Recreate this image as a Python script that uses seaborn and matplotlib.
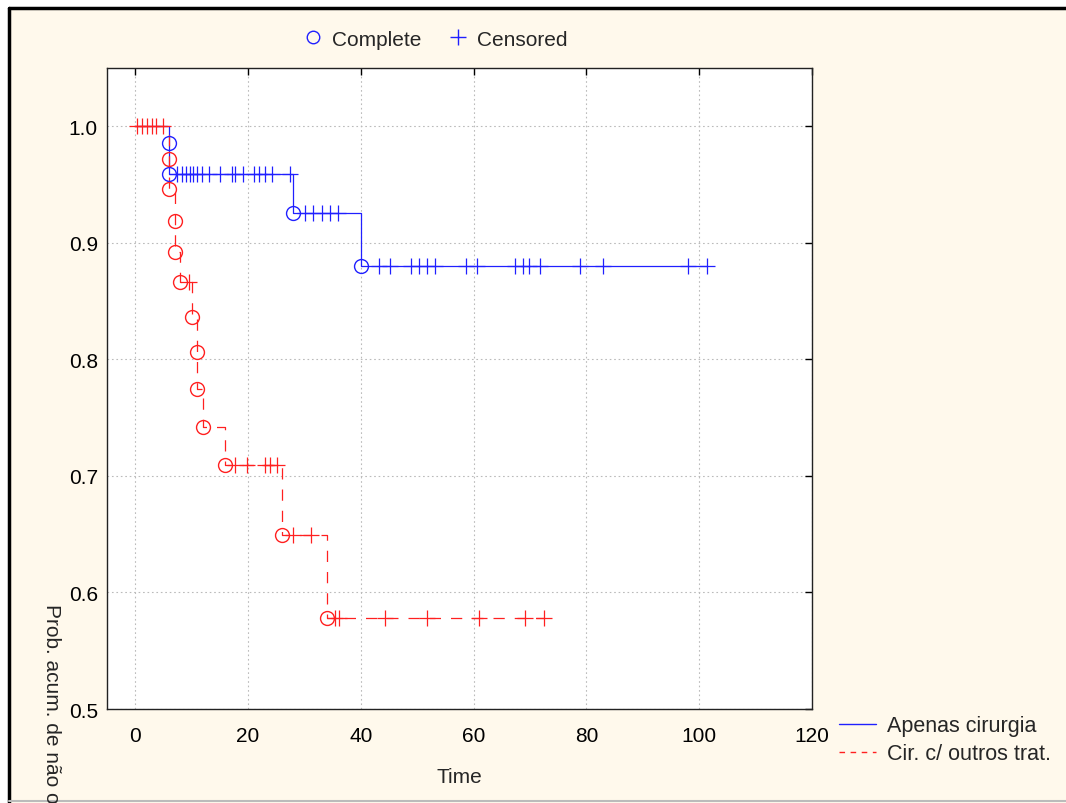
import matplotlib
matplotlib.use('Agg')
import matplotlib.pyplot as plt
from matplotlib.lines import Line2D
from matplotlib.patches import Rectangle
import numpy as np
import pandas as pd
import seaborn as sns

# Kaplan-Meier readings, group 1: "Apenas cirurgia"
blue_event_t = [6, 6, 28, 40]
blue_event_s = [0.986, 0.959, 0.926, 0.880]
blue_cens_t = [[7.5, 8.3, 9.0, 9.7, 10.3, 11.0, 11.8, 13.1, 15.1, 17.1, 17.7, 19.2, 21.1, 21.9, 23.0, 24.2, 27.5],
               [30.1, 31.6, 33.1, 34.6, 36.0],
               [43.3, 45.2, 48.9, 50.4, 51.8, 53.2, 58.7, 60.6, 67.4, 68.7, 69.9, 71.8, 78.8, 83.0, 98.1, 101.4]]
blue_cens_s = [0.959, 0.926, 0.880]

# group 2: "Cir. c/ outros trat."
red_event_t = [6, 6, 7, 7, 8, 10, 11, 11, 12, 16, 26, 34]
red_event_s = [0.972, 0.9465, 0.919, 0.892, 0.8665, 0.836, 0.806, 0.775, 0.742, 0.7095, 0.6495, 0.578]
red_cens_t = [[0.3, 1.2, 2.1, 2.9, 3.7, 4.9],
              [9.6],
              [17.7, 19.9, 23.0, 23.9, 25.1],
              [28.0, 31.2],
              [35.5, 36.2, 44.3, 51.7, 60.9, 69.1, 72.4]]
red_cens_s = [1.0, 0.8665, 0.7095, 0.6495, 0.578]

x_ticks = [0, 20, 40, 60, 80, 100, 120]
y_ticks = [0.5, 0.6, 0.7, 0.8, 0.9, 1.0]

blue = '#2020FF'
red = '#FF2020'
cream = '#FFF9EC'

sns.set_theme(style='white')
plt.rcParams['font.family'] = ['Liberation Sans', 'DejaVu Sans']


def step_frame(ev_t, ev_s, cens_t):
    last = max(max(c) for c in cens_t)
    t = [0] + list(ev_t) + [last]
    s = [1.0] + list(ev_s) + [ev_s[-1]]
    return pd.DataFrame({'t': t, 's': s})


def cens_frame(cens_t, cens_s):
    rows = [(t, s) for ts, s in zip(cens_t, cens_s) for t in ts]
    return pd.DataFrame(rows, columns=['t', 's'])


fig = plt.figure(figsize=(10.66, 8.04), dpi=100)
fig.patch.set_facecolor('white')
fig.patches.append(Rectangle((9 / 1066, 0), 1, 1 - 9 / 804, transform=fig.transFigure,
                             facecolor=cream, edgecolor='none', zorder=-10))
fig.add_artist(Line2D([9 / 1066, 1], [1 - 9 / 804] * 2, color='black', lw=2.5))
fig.add_artist(Line2D([9 / 1066] * 2, [0, 1 - 9 / 804], color='black', lw=2.5))
fig.add_artist(Line2D([9 / 1066, 1], [0.002, 0.002], color='#BBBBBB', lw=1.5))

ax = fig.add_axes([107 / 1066, 1 - 710 / 804, 705 / 1066, 641 / 804])
ax.set_facecolor('white')

bstep = step_frame(blue_event_t, blue_event_s, blue_cens_t)
rstep = step_frame(red_event_t, red_event_s, red_cens_t)

sns.lineplot(data=bstep, x='t', y='s', ax=ax, estimator=None, sort=False,
             drawstyle='steps-post', color=blue, lw=0.9, zorder=3)
sns.lineplot(data=rstep, x='t', y='s', ax=ax, estimator=None, sort=False,
             drawstyle='steps-post', color=red, lw=0.9, linestyle=(0, (9, 8)), zorder=4)

bc = cens_frame(blue_cens_t, blue_cens_s)
rc = cens_frame(red_cens_t, red_cens_s)
ax.plot(bc['t'], bc['s'], ls='none', marker='+', ms=11, mew=0.9, color=blue, zorder=5)
ax.plot(rc['t'], rc['s'], ls='none', marker='+', ms=11, mew=0.9, color=red, zorder=5)
ax.plot(blue_event_t, blue_event_s, ls='none', marker='o', ms=10, mfc='none', mec=blue, mew=1.0, zorder=6)
ax.plot(red_event_t, red_event_s, ls='none', marker='o', ms=10, mfc='none', mec=red, mew=1.0, zorder=6)

ax.set_xlim(-5, 120)
ax.set_ylim(0.5, 1.05)
ax.set_xticks(x_ticks)
ax.set_yticks(y_ticks)
ax.set_yticklabels([f'{v:.1f}' for v in y_ticks])
ax.grid(True, color='#BBBBBB', linestyle=(0, (1.5, 2.5)), lw=0.8)
ax.tick_params(direction='in', length=5, width=1, colors='black', labelsize=15,
               top=True, right=True)
ax.tick_params(axis='y', pad=6.5)
ax.tick_params(axis='x', pad=12)
for sp in ax.spines.values():
    sp.set_color('#222222')
    sp.set_linewidth(1.0)
ax.set_xlabel('')
ax.set_ylabel('')

fig.text(459 / 1066, 1 - 778 / 804, 'Time', ha='center', va='center', fontsize=15)
fig.text(51 / 1066, 1 - 604 / 804, 'Prob. acum. de não ocorrência', rotation=-90,
         ha='center', va='top', fontsize=15)

top_handles = [Line2D([], [], ls='none', marker='o', ms=9, mfc='none', mec=blue, mew=1.0),
               Line2D([], [], ls='none', marker='+', ms=11, mew=1.0, color=blue)]
fig.legend(top_handles, ['Complete', 'Censored'], loc='center', bbox_to_anchor=(434 / 1066, 1 - 40 / 804),
           ncol=2, frameon=False, fontsize=15, handletextpad=0.3, columnspacing=1.2, handlelength=1.2)

grp_handles = [Line2D([], [], color=blue, lw=1.0),
               Line2D([], [], color=red, lw=1.0, linestyle=(0, (4, 4)))]
fig.legend(grp_handles, ['Apenas cirurgia', 'Cir. c/ outros trat.'], loc='upper left',
           bbox_to_anchor=(820 / 1066, 1 - 697 / 804), frameon=False, fontsize=15.5,
           handlelength=1.7, handletextpad=0.5, labelspacing=0.32)

fig.savefig('out.png', dpi=100, facecolor=fig.get_facecolor())
